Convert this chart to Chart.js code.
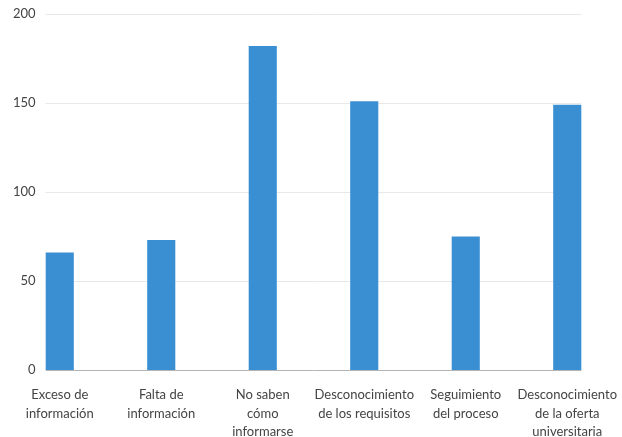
<!DOCTYPE html>
<html>
<head>
<meta charset="utf-8">
<script src="https://cdn.jsdelivr.net/npm/chart.js@4"></script>
<style>
html,body{margin:0;padding:0;background:#fff;}
#wrap{width:622px;height:437px;position:relative;}
</style>
</head>
<body>
<div id="wrap"><canvas id="c"></canvas></div>
<script>
const categories = [
  ["Exceso de", "información"],
  ["Falta de", "información"],
  ["No saben", "cómo", "informarse"],
  ["Desconocimiento", "de los requisitos"],
  ["Seguimiento", "del proceso"],
  ["Desconocimiento", "de la oferta", "universitaria"]
];
const values = [66, 73, 182, 151, 75, 149];
const yTicks = [0, 50, 100, 150, 200];

const gridPlugin = {
  id: 'partialGrid',
  beforeDatasetsDraw(chart) {
    const meta = chart.getDatasetMeta(0);
    const first = meta.data[0], last = meta.data[meta.data.length - 1];
    const x0 = first.x - first.width / 2;
    const x1 = last.x + last.width / 2;
    const y = chart.scales.y;
    const ctx = chart.ctx;
    ctx.save();
    yTicks.forEach(v => {
      const py = Math.round(y.getPixelForValue(v)) + 0.5;
      ctx.strokeStyle = v === 0 ? '#b5b5b5' : '#e8e8e8';
      ctx.lineWidth = 1;
      ctx.beginPath();
      ctx.moveTo(x0, py);
      ctx.lineTo(x1, py);
      ctx.stroke();
    });
    ctx.restore();
  }
};

new Chart(document.getElementById('c'), {
  type: 'bar',
  data: {
    labels: categories,
    datasets: [{
      data: values,
      backgroundColor: '#3a8fd3',
      borderWidth: 0,
      barPercentage: 0.277,
      categoryPercentage: 1.0
    }]
  },
  options: {
    responsive: true,
    maintainAspectRatio: false,
    animation: false,
    layout: { padding: { left: 0, right: 4, top: 14, bottom: 0 } },
    plugins: { legend: { display: false }, tooltip: { enabled: false } },
    scales: {
      x: {
        offset: true,
        afterFit: s => { s.height = 67; s.paddingLeft = 0; s.paddingRight = 0; },
        grid: { display: false },
        border: { display: false },
        ticks: {
          color: '#444',
          font: { family: 'Lato', size: 13, lineHeight: '18.5px' },
          padding: 8,
          maxRotation: 0,
          minRotation: 0,
          autoSkip: false
        }
      },
      y: {
        min: 0,
        max: 200,
        afterFit: s => { s.width = 9; },
        afterBuildTicks: s => { s.ticks = yTicks.map(v => ({ value: v })); },
        grid: { display: false, drawTicks: false },
        border: { display: false },
        ticks: {
          mirror: true,
          crossAlign: 'far',
          padding: 4,
          color: '#444',
          font: { family: 'Lato', size: 13 }
        }
      }
    }
  },
  plugins: [gridPlugin]
});
</script>
</body>
</html>
